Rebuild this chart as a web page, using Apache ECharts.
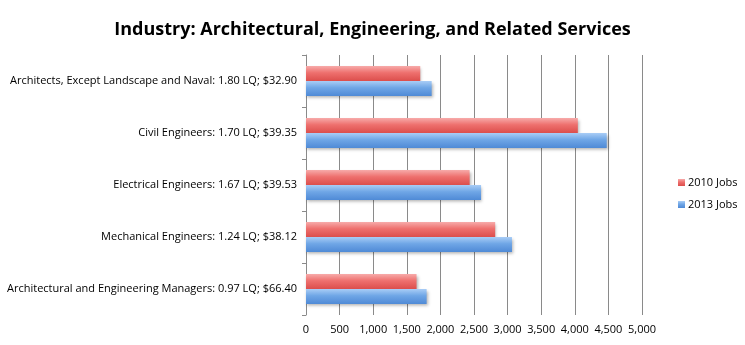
<!DOCTYPE html>
<html>
<head>
<meta charset="utf-8">
<script src="https://cdn.jsdelivr.net/npm/echarts@6/dist/echarts.min.js"></script>
<style>
  html, body { margin: 0; padding: 0; background: #fff; }
  #chart { width: 745px; height: 345px; }
</style>
</head>
<body>
<div id="chart"></div>
<script>
// Occupations, listed bottom to top as the category axis draws them
const categories = [
  'Architectural and Engineering Managers: 0.97 LQ; $66.40',
  'Mechanical Engineers: 1.24 LQ; $38.12',
  'Electrical Engineers: 1.67 LQ; $39.53',
  'Civil Engineers: 1.70 LQ; $39.35',
  'Architects, Except Landscape and Naval: 1.80 LQ; $32.90'
];
const jobs2010 = [1645, 2815, 2435, 4045, 1700];
const jobs2013 = [1795, 3065, 2605, 4475, 1870];
const xTicks = { min: 0, max: 5000, interval: 500 };

const font = '"Open Sans", "Liberation Sans", sans-serif';

function barGradient(top, mid, bottom) {
  return new echarts.graphic.LinearGradient(0, 0, 0, 1, [
    { offset: 0, color: top },
    { offset: 0.45, color: mid },
    { offset: 1, color: bottom }
  ]);
}

const barShadow = { shadowColor: 'rgba(0,0,0,0.3)', shadowBlur: 3, shadowOffsetY: 1.5, shadowOffsetX: 1 };

const chart = echarts.init(document.getElementById('chart'), null, { renderer: 'canvas' });
chart.setOption({
  animation: false,
  backgroundColor: '#fff',
  title: {
    text: 'Industry: Architectural, Engineering, and Related Services',
    left: 'center',
    top: 16,
    textStyle: { fontFamily: font, fontSize: 18, fontWeight: 'bold', color: '#000' }
  },
  legend: {
    orient: 'vertical',
    left: 673,
    top: 172,
    itemWidth: 7,
    itemHeight: 7,
    itemGap: 11,
    icon: 'rect',
    textStyle: { fontFamily: font, fontSize: 11, color: '#000', padding: [0, 0, 0, -2] },
    data: ['2010 Jobs', '2013 Jobs']
  },
  grid: { left: 306, right: 103, top: 55, bottom: 30, containLabel: false },
  xAxis: {
    type: 'value',
    min: xTicks.min,
    max: xTicks.max,
    interval: xTicks.interval,
    axisLine: { show: false },
    axisTick: { show: false },
    axisLabel: {
      fontFamily: font, fontSize: 11, color: '#000', margin: 9,
      formatter: v => v.toLocaleString('en-US')
    },
    splitLine: { show: true, lineStyle: { color: '#8a8a8a', width: 1 } }
  },
  yAxis: {
    type: 'category',
    data: categories,
    axisLine: { show: true, lineStyle: { color: '#8a8a8a' } },
    axisTick: { show: true, length: 4, lineStyle: { color: '#8a8a8a' } },
    axisLabel: { fontFamily: font, fontSize: 11, color: '#000', margin: 9 }
  },
  series: [
    {
      name: '2010 Jobs',
      type: 'bar',
      data: jobs2010,
      barWidth: 15,
      barGap: '0%',
      barCategoryGap: '42%',
      itemStyle: Object.assign({ color: barGradient('#f7abaa', '#ee706e', '#dc4e4c') }, barShadow)
    },
    {
      name: '2013 Jobs',
      type: 'bar',
      data: jobs2013,
      barWidth: 15,
      barGap: '0%',
      itemStyle: Object.assign({ color: barGradient('#a9cdf6', '#6fa6e6', '#4f8ad6') }, barShadow)
    }
  ]
});
</script>
</body>
</html>
